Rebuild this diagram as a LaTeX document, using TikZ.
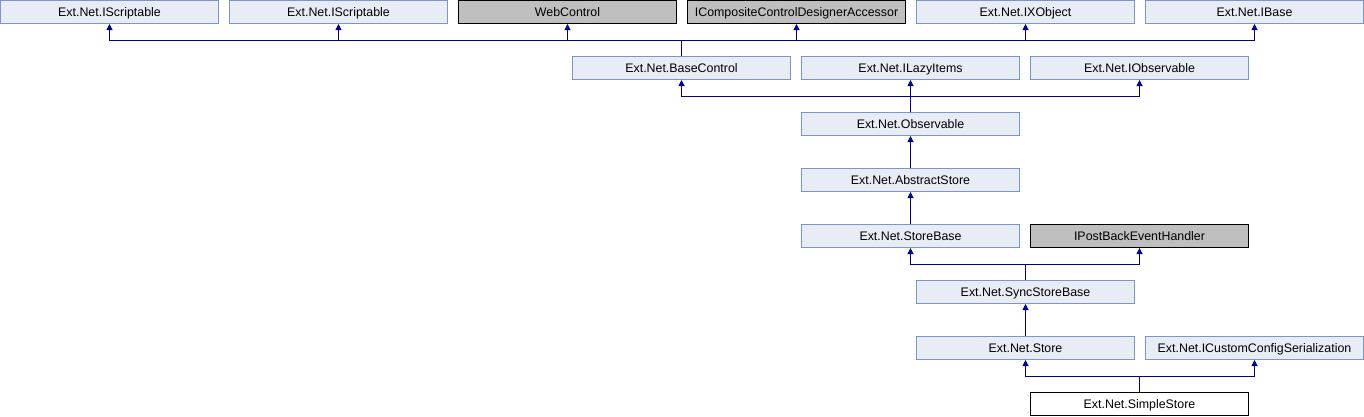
\documentclass[tikz,border=0pt]{standalone}
\usepackage{fontspec}
\setmainfont{Liberation Sans}
\usetikzlibrary{arrows.meta}
\definecolor{boxfill}{RGB}{232,236,245}
\definecolor{boxline}{RGB}{124,149,200}
\definecolor{extfill}{RGB}{191,191,191}
\definecolor{edgecol}{RGB}{0,0,145}
\begin{document}
\begin{tikzpicture}[x=1pt,y=-1pt,
 cls/.style={draw=boxline,fill=boxfill,line width=1pt,minimum width=218pt,minimum height=23pt,inner sep=0pt,text height=11pt,text depth=3pt,font=\fontsize{12.4}{14}\selectfont},
 ext/.style={cls,draw=black,fill=extfill},
 cur/.style={cls,draw=black,fill=white},
 inh/.style={draw=edgecol,line width=1pt,-{Triangle[width=6pt,length=6pt]}}]
\useasboundingbox (0,0) rectangle (1364,416);
% row 0
\node[cls] (s1) at (109.5,12) {Ext.Net.IScriptable};
\node[cls] (s2) at (338.5,12) {Ext.Net.IScriptable};
\node[ext] (web) at (567.5,12) {WebControl};
\node[ext] (comp) at (796.5,12) {ICompositeControlDesignerAccessor};
\node[cls] (ixo) at (1025.5,12) {Ext.Net.IXObject};
\node[cls] (ibase) at (1254.5,12) {Ext.Net.IBase};
% row 1
\node[cls] (bc) at (681.5,68) {Ext.Net.BaseControl};
\node[cls] (lazy) at (910.5,68) {Ext.Net.ILazyItems};
\node[cls] (iobs) at (1139.5,68) {Ext.Net.IObservable};
% row 2-4
\node[cls] (obs) at (910.5,124) {Ext.Net.Observable};
\node[cls] (abs) at (910.5,180) {Ext.Net.AbstractStore};
\node[cls] (sb) at (910.5,236) {Ext.Net.StoreBase};
\node[ext] (pb) at (1139.5,236) {IPostBackEventHandler};
% row 5-7
\node[cls] (ssb) at (1025.5,292) {Ext.Net.SyncStoreBase};
\node[cls] (store) at (1025.5,348) {Ext.Net.Store};
\node[cls] (icc) at (1254.5,348) {Ext.Net.ICustomConfigSerialization};
\node[cur] (simple) at (1139.5,404) {Ext.Net.SimpleStore};
% edges
\foreach \p in {s1,s2,web,comp,ixo,ibase}
  \draw[inh] (bc.north) -- ++(0,-16) -| (\p.south);
\foreach \p in {bc,iobs}
  \draw[inh] (obs.north) -- ++(0,-16) -| (\p.south);
\draw[inh] (obs.north) -- (lazy.south);
\draw[inh] (abs.north) -- (obs.south);
\draw[inh] (sb.north) -- (abs.south);
\foreach \p in {sb,pb}
  \draw[inh] (ssb.north) -- ++(0,-16) -| (\p.south);
\draw[inh] (store.north) -- (ssb.south);
\foreach \p in {store,icc}
  \draw[inh] (simple.north) -- ++(0,-16) -| (\p.south);
\end{tikzpicture}
\end{document}
